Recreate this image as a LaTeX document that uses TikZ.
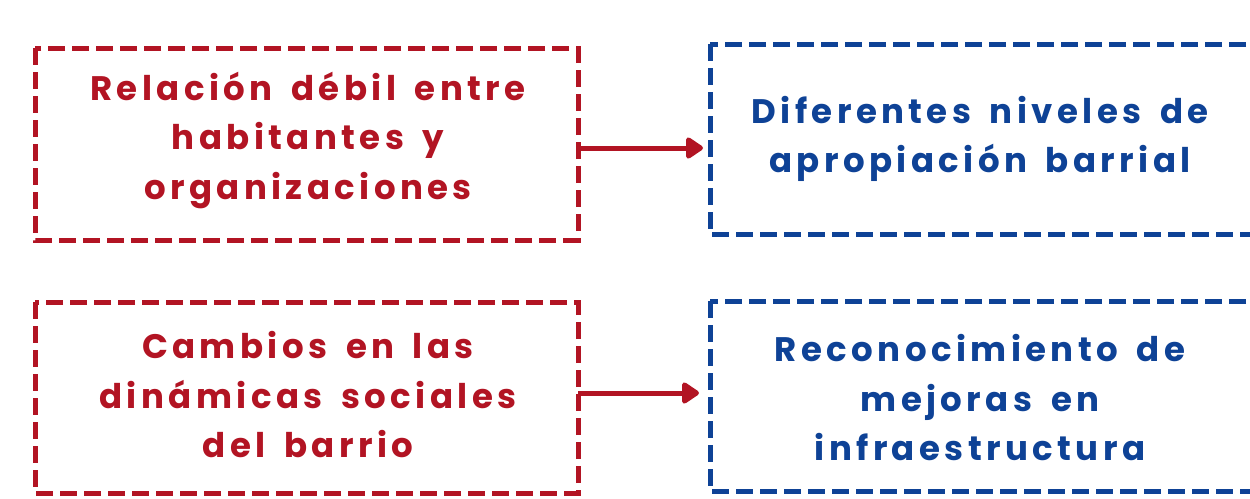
\documentclass[tikz,border=0pt]{standalone}
\usepackage{fontspec}
\newfontfamily\labelfont{Poppins}[LetterSpace=13,WordSpace=1.6]
\usetikzlibrary{arrows.meta}
\definecolor{boxred}{RGB}{178,20,35}
\definecolor{boxblue}{RGB}{14,66,150}
\begin{document}
\begin{tikzpicture}[x=1pt,y=-1pt,
  causebox/.style={draw=boxred,line width=5pt,dash pattern=on 17pt off 7pt},
  effectbox/.style={draw=boxblue,line width=5pt,dash pattern=on 17pt off 7pt},
  redtxt/.style={text=boxred,font=\labelfont\bfseries\fontsize{34}{49.5}\selectfont,align=center},
  bluetxt/.style={text=boxblue,font=\labelfont\bfseries\fontsize{34}{49.5}\selectfont,align=center},
  link/.style={draw=boxred,line width=5pt,-{Triangle[length=19pt,width=24pt,round]}}]
\useasboundingbox (0,0) rectangle (1250,498);
\clip (0,0) rectangle (1250,498);
\draw[causebox] (35,48) rectangle (578,240);
\draw[causebox] (35,302) rectangle (578,493);
\draw[effectbox] (710,44) rectangle (1256,234);
\draw[effectbox] (710,301) rectangle (1256,491);
\coordinate (r1e) at (578,148);
\coordinate (r2e) at (578,393);
\coordinate (b1w) at (703,148);
\coordinate (b2w) at (699,393);
\node[redtxt] (t1) at (308,140) {Relación débil entre\\habitantes y\\organizaciones};
\node[redtxt] (t2) at (308,395) {Cambios en las\\dinámicas sociales\\del barrio};
\node[bluetxt] (t3) at (980,139) {Diferentes niveles de\\apropiación barrial};
\node[bluetxt] (t4) at (980,398) {Reconocimiento de\\mejoras en\\infraestructura};
\draw[link] (r1e) -- (b1w);
\draw[link] (r2e) -- (b2w);
\end{tikzpicture}
\end{document}
